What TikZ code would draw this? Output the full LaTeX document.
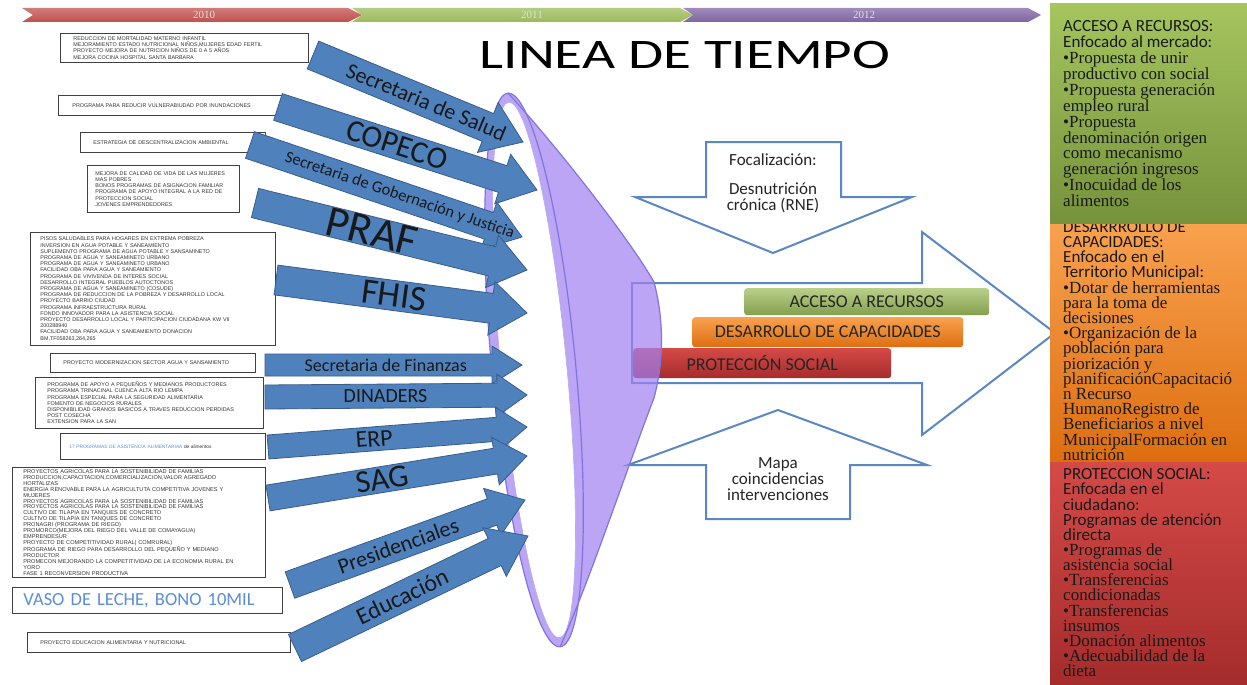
\documentclass[tikz,border=0pt]{standalone}
\usepackage{fontspec}
\setmainfont{Liberation Serif}
\newfontfamily\calfont{Carlito}
\newfontfamily\arifont{Liberation Sans}
\usetikzlibrary{calc,shadows}
\definecolor{ablue}{HTML}{4F81BD}
\definecolor{abluedark}{HTML}{385D8A}
\definecolor{bred}{HTML}{C0504D}
\definecolor{bgreen}{HTML}{9BBB59}
\definecolor{bpurple}{HTML}{8064A2}
\definecolor{lav}{HTML}{A080F2}
\definecolor{lavline}{HTML}{7F74E0}
\definecolor{outblue}{HTML}{5B87C2}
\definecolor{txtblue}{HTML}{5B8ED6}
\definecolor{pgtop}{HTML}{A5C55E}
\definecolor{pgbot}{HTML}{76923C}
\definecolor{potop}{HTML}{F9A14E}
\definecolor{pobot}{HTML}{DD6E10}
\definecolor{prtop}{HTML}{D44A47}
\definecolor{prbot}{HTML}{A52C2C}
\tikzset{
 boxnode/.style={draw=black!75, line width=0.8pt, fill=white, inner ysep=0pt, align=left, anchor=north west, font=\arifont\fontsize{5.4}{6.2}\selectfont, text=black!80, drop shadow={shadow xshift=1pt, shadow yshift=-1pt, opacity=0.35, fill=black}},
 barrow/.style={fill=ablue, draw=abluedark, line width=0.8pt, line join=miter},
 alabel/.style={text=black!90, inner sep=0pt},
 whitearrow/.style={draw=outblue, line width=2pt, fill=white, line join=miter},
 bar/.style={rounded corners=3pt, anchor=north west, inner sep=0pt, font=\calfont\fontsize{18}{18}\selectfont, text=black!85},
 paneltext/.style={anchor=north west, inner sep=0pt, align=left, text=black!90},
 panelbox/.style={anchor=north west, inner sep=0pt, minimum width=197pt},
 yeartext/.style={text=white!88!black, font=\fontsize{11}{11}\selectfont},
 arrowtext/.style={font=\calfont\fontsize{17}{16}\selectfont, text=black!85, align=center},
 mouth/.style={rotate around={5.4:(534,370)}},
}
\newcommand\blockarr[6]{%
 \coordinate (#1s) at (#2);
 \coordinate (#1t) at (#3);
 \coordinate (#1n) at ($(#1t)!#6pt!(#1s)$);
 \draw[barrow] ($(#1s)!#4pt!90:(#1t)$) -- ($(#1n)!#4pt!90:(#1t)$) -- ($(#1n)!#5pt!90:(#1t)$) -- (#1t) -- ($(#1n)!#5pt!-90:(#1t)$) -- ($(#1n)!#4pt!-90:(#1t)$) -- ($(#1s)!#4pt!-90:(#1t)$) -- cycle;
}
\begin{document}
\lineskiplimit=-20pt
\lineskip=0pt
\begin{tikzpicture}[x=1pt,y=-1pt]
\useasboundingbox (0,0) rectangle (1247,685);
\fill[white] (0,0) rectangle (1247,685);

% banner
\shade[top color=bred!75!white, bottom color=bred] (22,8) -- (348,8) -- (362,15) -- (348,22) -- (22,22) -- (33,15) -- cycle;
\shade[top color=bgreen!75!white, bottom color=bgreen] (352,8) -- (680,8) -- (693,15) -- (680,22) -- (352,22) -- (362,15) -- cycle;
\shade[top color=bpurple!75!white, bottom color=bpurple] (683,8) -- (1028,8) -- (1041,15) -- (1028,22) -- (683,22) -- (693,15) -- cycle;
\node[yeartext] (y0) at (204,15) {2010};
\node[yeartext] (y1) at (532,15) {2011};
\node[yeartext] (y2) at (864,15) {2012};

% title
\node[font=\calfont\fontsize{42}{42}\selectfont, inner sep=0pt, xscale=1.36] (title) at (685,55.5) {LINEA DE TIEMPO};

% left boxes
\node[boxnode, text width=222pt, inner xsep=13pt, minimum height=29pt] (b1) at (60,33) {REDUCCION DE MORTALIDAD MATERNO INFANTIL\\MEJORAMIENTO ESTADO NUTRICIONAL NIÑOS,MUJERES EDAD FERTIL\\PROYECTO MEJORA DE NUTRICION NIÑOS DE 0 A 5 AÑOS\\MEJORA COCINA HOSPITAL SANTA BARBARA};
\node[boxnode, text width=196pt, inner xsep=14pt, minimum height=20pt] (b2) at (58,95) {PROGRAMA PARA REDUCIR VULNERABIUDAD POR INUNDACIONES};
\node[boxnode, text width=159pt, inner xsep=13pt, minimum height=20pt] (b3) at (80,132) {ESTRATEGIA DE DESCENTRALIZACION AMBIENTAL};
\node[boxnode, text width=136pt, inner xsep=8pt, minimum height=47pt] (b4) at (87,165) {MEJORA DE CALIDAD DE VIDA DE LAS MUJERES\\MAS POBRES\\BONOS PROGRAMAS DE ASIGNACION FAMILIAR\\PROGRAMA DE APOYO INTEGRAL A LA RED DE\\PROTECCION SOCIAL\\JOVENES EMPRENDEDORES};
\node[boxnode, text width=225pt, inner xsep=10pt, minimum height=113pt] (b5) at (30,232) {PISOS SALUDABLES PARA HOGARES EN EXTREMA POBREZA\\INVERSION EN AGUA POTABLE Y SANEAMIENTO\\SUPLEMENTO PROGRAMA DE AGUA POTABLE Y SANSAMINETO\\PROGRAMA DE AGUA Y SANEAMINETO URBANO\\PROGRAMA DE AGUA Y SANEAMINETO URBANO\\FACILIDAD OBA PARA AGUA Y SANEAMIENTO\\PROGRAMA DE VIVIVENDA DE INTERES SOCIAL\\DESARROLLO INTEGRAL PUEBLOS AUTOCTONOS\\PROGRAMA DE AGUA Y SANEAMINETO (COSUDE)\\PROGRAMA DE REDUCCION DE LA POBREZA Y DESARROLLO LOCAL\\PROYECTO BARRIO CIUDAD\\PROGRAMA INFRAESTRUCTURA RURAL\\FONDO INNOVADOR PARA LA ASISTENCIA SOCIAL\\PROYECTO DESARROLLO LOCAL Y PARTICIPACION CIUDADANA KW VII\\200288940\\FACILIDAD OBA PARA AGUA Y SANEAMIENTO DONACION\\BM,TF058263,264,265\\[4pt]};
\node[boxnode, text width=179pt, inner xsep=13pt, minimum height=19pt] (b6) at (50,353) {PROYECTO MODERNIZACION SECTOR AGUA Y SANSAMIENTO};
\node[boxnode, text width=204pt, inner xsep=12pt, minimum height=51pt] (b7) at (35,377) {PROGRAMA DE APOYO A PEQUEÑOS Y MEDIANOS PRODUCTORES\\PROGRAMA TRINACINAL CUENCA ALTA RIO LEMPA\\PROGRAMA ESPECIAL PARA LA SEGURIDAD ALIMENTARIA\\FOMENTO DE NEGOCIOS RURALES\\DISPONIBILIDAD GRANOS BASICOS A TRAVES REDUCCION PERDIDAS\\POST COSECHA\\EXTENSION PARA LA SAN};
\node[boxnode, text width=187pt, inner xsep=9pt, minimum height=26pt, font=\arifont\fontsize{4.8}{6.2}\selectfont] (b8) at (60,433) {{\color{txtblue}17 PROGRAMAS DE ASISTENCIA ALIMENTARIAA} de alimentos};
\node[boxnode, text width=231pt, inner xsep=11pt, minimum height=110pt, font=\arifont\fontsize{5.6}{5.9}\selectfont] (b9) at (12,467) {PROYECTOS AGRICOLAS PARA LA SOSTENIBILIDAD DE FAMILIAS\\PRODUCCION,CAPACITACION,COMERCIALIZACION,VALOR AGREGADO\\HORTALIZAS\\ENERGIA RENOVABLE PARA LA AGRICULTUTA COMPETITIVA JOVENES Y\\MUJERES\\PROYECTOS AGRICOLAS PARA LA SOSTENIBILIDAD DE FAMILIAS\\PROYECTOS AGRICOLAS PARA LA SOSTENIBILIDAD DE FAMILIAS\\CULTIVO DE TILAPIA EN TANQUES DE CONCRETO\\CULTIVO DE TILAPIA EN TANQUES DE CONCRETO\\PRONAGRI (PROGRAMA DE RIEGO)\\PROMORCO(MEJORA DEL RIEGO DEL VALLE DE COMAYAGUA)\\EMPRENDESUR\\PROYECTO DE COMPETITIVIDAD RURAL( COMRURAL)\\PROGRAMA DE RIEGO PARA DESARROLLO DEL PEQUEÑO Y MEDIANO\\PRODUCTOR\\PROMECON MEJORANDO LA COMPETITIVIDAD DE LA ECONOMIA RURAL EN\\YORO\\FASE 1 RECONVERSION PRODUCTIVA};
\node[boxnode, text width=248pt, inner xsep=11pt, minimum height=26pt, font=\calfont\fontsize{18.5}{18.5}\selectfont, text=txtblue] (b10) at (12,587) {VASO DE LECHE, BONO 10MIL};
\node[boxnode, text width=237pt, inner xsep=13pt, minimum height=20pt] (b11) at (27,632) {PROYECTO EDUCACION ALIMENTARIA Y NUTRICIONAL};

% white arrows
\draw[whitearrow] (632,283) -- (922,283) -- (922,232) -- (1055,333) -- (922,435) -- (922,383) -- (632,383) -- cycle;
\draw[whitearrow] (706,142) -- (841,142) -- (841,197) -- (912,197) -- (773,253) -- (635,197) -- (706,197) -- cycle;
\draw[whitearrow] (778,410) -- (927,465) -- (850,465) -- (850,519) -- (706,519) -- (706,465) -- (628,465) -- cycle;
\node[arrowtext] (foc) at (773,160) {Focalización:};
\node[arrowtext] (des) at (773,198) {Desnutrición\\crónica (RNE)};
\node[arrowtext] (mapa) at (778,479) {Mapa\\coincidencias\\intervenciones};

% colored bars
\node[bar, top color=bgreen!70!white, bottom color=bgreen!85!black, minimum width=245pt, minimum height=27pt] (acc) at (744,288) {ACCESO A RECURSOS};
\node[bar, top color=potop, bottom color=pobot, minimum width=271pt, minimum height=30pt] (dcap) at (692,317) {DESARROLLO DE CAPACIDADES};
\node[bar, top color=prtop, bottom color=prbot, minimum width=258pt, minimum height=30pt] (prot) at (633,348) {PROTECCIÓN SOCIAL};

% funnel
\begin{scope}[transparency group, opacity=0.7]
\fill[lav, mouth] (534,370) ellipse [x radius=42pt, y radius=278pt];
\fill[lav] (508,93) .. controls (560,150) and (630,240) .. (654,282)
 .. controls (664,320) and (664,360) .. (654,398)
 .. controls (630,460) and (590,580) .. (560,647) -- (534,370) -- cycle;
\end{scope}
\fill[white, mouth] (534,370) ellipse [x radius=33pt, y radius=269pt];
\draw[lavline, line width=1.2pt, mouth] (534,370) ellipse [x radius=42pt, y radius=278pt];
\draw[lavline!60!white, line width=0.6pt, mouth] (534,370) ellipse [x radius=33pt, y radius=269pt];
\draw[lavline, line width=1.2pt] (508,93) .. controls (560,150) and (630,240) .. (654,282)
 .. controls (664,320) and (664,360) .. (654,398)
 .. controls (630,460) and (590,580) .. (560,647);

% blue arrows
\blockarr{A}{313,55}{523,142}{15}{27}{38}
\blockarr{B}{278,107}{537,190}{14}{26}{36}
\blockarr{C}{250,145}{522,237}{14}{25}{35}
\blockarr{D}{255,203}{527,270}{15}{27}{36}
\blockarr{E}{276,280}{527,313}{15}{27}{36}
\blockarr{F}{265,365}{522,365}{11}{19}{30}
\blockarr{G}{265,397}{527,395}{12}{21}{30}
\blockarr{H}{268,447}{527,427}{12}{22}{30}
\blockarr{I}{268,498}{527,456}{13}{24}{32}
\blockarr{J}{290,585}{525,500}{14}{25}{35}
\blockarr{K}{295,648}{528,536}{15}{27}{37}
\path (As) -- (At) node[alabel, sloped, pos=0.54, font=\calfont\fontsize{22}{22}\selectfont] (Al) {Secretaria de Salud};
\path (Bs) -- (Bt) node[alabel, sloped, pos=0.46, font=\calfont\fontsize{31}{31}\selectfont] (Bl) {COPECO};
\path (Cs) -- (Ct) node[alabel, sloped, pos=0.55, font=\calfont\fontsize{16.5}{16.5}\selectfont] (Cl) {Secretaria de Gobernación y Justicia};
\path (Ds) -- (Dt) node[alabel, sloped, pos=0.43, font=\calfont\fontsize{44}{44}\selectfont] (Dl) {PRAF};
\path (Es) -- (Et) node[alabel, sloped, pos=0.47, font=\calfont\fontsize{36}{36}\selectfont] (El) {FHIS};
\path (Fs) -- (Ft) node[alabel, sloped, pos=0.47, font=\calfont\fontsize{18}{18}\selectfont] (Fl) {Secretaria de Finanzas};
\path (Gs) -- (Gt) node[alabel, sloped, pos=0.46, font=\calfont\fontsize{20}{20}\selectfont] (Gl) {DINADERS};
\path (Hs) -- (Ht) node[alabel, sloped, pos=0.41, font=\calfont\fontsize{24}{24}\selectfont] (Hl) {ERP};
\path (Is) -- (It) node[alabel, sloped, pos=0.44, font=\calfont\fontsize{32}{32}\selectfont] (Il) {SAG};
\path (Js) -- (Jt) node[alabel, sloped, pos=0.46, font=\calfont\fontsize{22}{22}\selectfont] (Jl) {Presidenciales};
\path (Ks) -- (Kt) node[alabel, sloped, pos=0.46, font=\calfont\fontsize{24}{24}\selectfont] (Kl) {Educación};

% right panels
\node[panelbox, minimum height=224pt, top color=prtop, bottom color=prbot] (pr) at (1050,461) {};
\node[panelbox, minimum height=238pt, top color=potop, bottom color=pobot] (po) at (1050,223) {};
\node[paneltext, font=\fontsize{17}{15.2}\selectfont] (tpo) at (1063,221) {{\calfont DESARRROLLO DE}\\{\calfont CAPACIDADES:}\\{\calfont Enfocado en el}\\{\calfont Territorio Municipal:}\\•Dotar de herramientas\\para la toma de\\decisiones\\•Organización de la\\población para\\piorización y\\planificaciónCapacitació\\n Recurso\\HumanoRegistro de\\Beneficiarios a nivel\\MunicipalFormación en\\nutrición};
\node[panelbox, minimum height=220pt, top color=pgtop, bottom color=pgbot] (pg) at (1050,3) {};
\node[paneltext, font=\fontsize{17}{15.9}\selectfont] (tpg) at (1063,20.5) {{\calfont ACCESO A RECURSOS:}\\{\calfont Enfocado al mercado:}\\•Propuesta de unir\\productivo con social\\•Propuesta generación\\empleo rural\\•Propuesta\\denominación origen\\como mecanismo\\generación ingresos\\•Inocuidad de los\\alimentos};
\node[paneltext, font=\fontsize{17}{15.15}\selectfont] (tpr) at (1063,468.5) {{\calfont PROTECCION SOCIAL:}\\{\calfont Enfocada en el}\\{\calfont ciudadano:}\\{\calfont Programas de atención}\\{\calfont directa}\\•Programas de\\asistencia social\\•Transferencias\\condicionadas\\•Transferencias\\insumos\\•Donación alimentos\\•Adecuabilidad de la\\dieta};
\end{tikzpicture}
\end{document}
